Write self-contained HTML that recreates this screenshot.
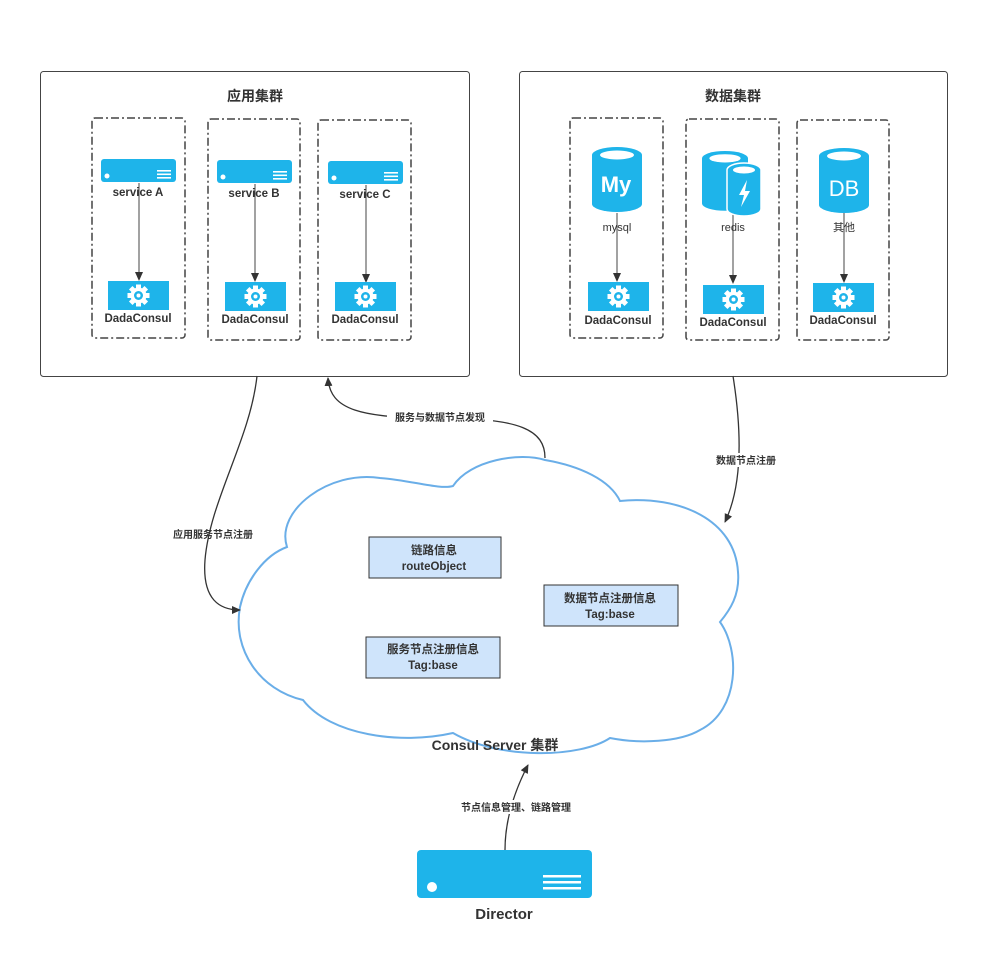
<!DOCTYPE html>
<html><head><meta charset="utf-8"><style>
html,body{margin:0;padding:0;background:#fff}
svg{display:block}
text{font-family:"Liberation Sans","Noto Sans CJK SC",sans-serif;fill:#333}
.b{font-weight:bold}
</style></head><body>
<svg width="1000" height="953" viewBox="0 0 1000 953" xmlns="http://www.w3.org/2000/svg">
<defs>
<marker id="ar" markerWidth="10" markerHeight="10" refX="8" refY="5" orient="auto" markerUnits="userSpaceOnUse">
<path d="M0,1 L9,5 L0,9 Z" fill="#333"/></marker>
<g id="srv"><rect x="0" y="0" width="75" height="23" rx="3" fill="#1eb4ea"/><circle cx="6" cy="17" r="2.5" fill="#fff"/><rect x="56" y="11" width="14" height="1.6" fill="#fff"/><rect x="56" y="14.5" width="14" height="1.6" fill="#fff"/><rect x="56" y="18" width="14" height="1.6" fill="#fff"/></g>
<g id="cog"><rect x="0" y="0" width="61" height="29" fill="#1eb4ea"/>
<g transform="translate(30.5,14.5)" fill="#fff"><circle r="8"/>
<rect x="-2.5" y="-11" width="5" height="22"/><rect x="-11" y="-2.5" width="22" height="5"/>
<rect x="-2.5" y="-11" width="5" height="22" transform="rotate(45)"/><rect x="-2.5" y="-11" width="5" height="22" transform="rotate(-45)"/>
<circle r="4.5" fill="#1eb4ea"/><circle r="2" fill="#fff"/></g></g>
<g id="cyl"><path d="M0,8 A25,8 0 0 1 50,8 L50,57 A25,8 0 0 1 0,57 Z" fill="#1eb4ea"/><ellipse cx="25" cy="8" rx="17" ry="4.5" fill="#fff"/></g>
</defs>

<!-- main boxes -->
<rect x="40.5" y="71.5" width="429" height="305" rx="3" fill="#fff" stroke="#444" stroke-width="1"/>
<rect x="519.5" y="71.5" width="428" height="305" rx="3" fill="#fff" stroke="#444" stroke-width="1"/>
<text x="255" y="101" font-size="14" class="b" text-anchor="middle">应用集群</text>
<text x="733" y="101" font-size="14" class="b" text-anchor="middle">数据集群</text>

<g fill="none" stroke="#444" stroke-width="1.5" stroke-dasharray="8,3,2,3">
<rect x="92" y="118" width="93" height="220" rx="3"/>
<rect x="208" y="119" width="92" height="221" rx="3"/>
<rect x="318" y="120" width="93" height="220" rx="3"/>
<rect x="570" y="118" width="93" height="220" rx="3"/>
<rect x="686" y="119" width="93" height="221" rx="3"/>
<rect x="797" y="120" width="92" height="220" rx="3"/>
</g>

<!-- services -->
<use href="#srv" x="101" y="159"/><use href="#srv" x="217" y="160"/><use href="#srv" x="328" y="161"/>
<g stroke="#444" stroke-width="1" marker-end="url(#ar)">
<line x1="139" y1="183" x2="139" y2="280"/><line x1="255" y1="184" x2="255" y2="281"/><line x1="366" y1="185" x2="366" y2="282"/>
<line x1="617" y1="213" x2="617" y2="281"/><line x1="733" y1="213" x2="733" y2="283"/><line x1="844" y1="213" x2="844" y2="282"/>
</g>
<text x="138" y="196" font-size="11.5" class="b" text-anchor="middle">service A</text>
<text x="254" y="197" font-size="11.5" class="b" text-anchor="middle">service B</text>
<text x="365" y="198" font-size="11.5" class="b" text-anchor="middle">service C</text>
<use href="#cog" x="108" y="281"/><use href="#cog" x="225" y="282"/><use href="#cog" x="335" y="282"/>
<use href="#cog" x="588" y="282"/><use href="#cog" x="703" y="285"/><use href="#cog" x="813" y="283"/>
<g font-size="11.5" class="b" text-anchor="middle">
<text x="138" y="322">DadaConsul</text><text x="255" y="323">DadaConsul</text><text x="365" y="323">DadaConsul</text>
<text x="618" y="324">DadaConsul</text><text x="733" y="326">DadaConsul</text><text x="843" y="324">DadaConsul</text>
</g>

<!-- databases -->
<use href="#cyl" x="592" y="147"/>
<text x="616" y="192" font-size="22" font-weight="bold" fill="#fff" style="fill:#fff" text-anchor="middle">My</text>
<use href="#cyl" x="702" y="151" transform="translate(702,151) scale(0.92) translate(-702,-151)"/>
<g transform="translate(727,162)"><path d="M0,8 A17,7 0 0 1 34,8 L34,47 A17,7 0 0 1 0,47 Z" fill="#1eb4ea" stroke="#fff" stroke-width="1.5"/><ellipse cx="17" cy="8" rx="11" ry="3.5" fill="#fff"/><path d="M20,18 L12,33 L17,33 L14,45 L23,29 L18,29 Z" fill="#fff"/></g>
<use href="#cyl" x="819" y="148"/>
<text x="844" y="196" font-size="22" fill="#fff" style="fill:#fff" text-anchor="middle">DB</text>
<text x="617" y="231" font-size="11" text-anchor="middle">mysql</text>
<text x="733" y="231" font-size="11" text-anchor="middle">redis</text>
<text x="844" y="231" font-size="11" text-anchor="middle">其他</text>

<!-- cloud -->
<path d="M453,486 C470,460 520,452 545,460 C580,466 610,480 620,501 C680,495 735,520 738,572 C740,595 730,610 720,622 C740,650 740,710 700,730 C680,742 640,744 610,738 C580,758 500,760 453,733 C400,745 330,735 303,700 C260,690 232,650 240,607 C246,580 265,555 287,547 C275,510 330,470 380,478 C410,480 440,490 453,486 Z" fill="#fff" stroke="#6aaee8" stroke-width="2"/>

<g stroke="#333" stroke-width="1" fill="#cfe4fb">
<rect x="369" y="537" width="132" height="41"/>
<rect x="544" y="585" width="134" height="41"/>
<rect x="366" y="637" width="134" height="41"/>
</g>
<g font-size="11.5" class="b" text-anchor="middle">
<text x="434" y="554">链路信息</text><text x="434" y="570">routeObject</text>
<text x="610" y="602">数据节点注册信息</text><text x="610" y="618">Tag:base</text>
<text x="433" y="653">服务节点注册信息</text><text x="433" y="669">Tag:base</text>
</g>
<text x="495" y="750" font-size="14" class="b" text-anchor="middle">Consul Server 集群</text>

<!-- connectors -->
<g fill="none" stroke="#333" stroke-width="1.3" marker-end="url(#ar)">
<path d="M257,376 C250,440 210,500 205,560 C202,600 220,610 240,610"/>
<path d="M545,458 C545,430 520,418 440,418 C360,418 330,410 328,378"/>
<path d="M733,376 C740,420 745,480 725,522"/>
<path d="M505,850 C505,820 515,790 528,765"/>
</g>
<g font-size="10" class="b" text-anchor="middle">
<rect x="387" y="410" width="106" height="14" fill="#fff"/>
<text x="440" y="421">服务与数据节点发现</text>
<text x="213" y="538">应用服务节点注册</text>
<rect x="710" y="453" width="72" height="14" fill="#fff"/>
<text x="746" y="464">数据节点注册</text>
<rect x="450" y="800" width="132" height="14" fill="#fff"/>
<text x="516" y="811">节点信息管理、链路管理</text>
</g>

<!-- director -->
<rect x="417" y="850" width="175" height="48" rx="4" fill="#1eb4ea"/>
<circle cx="432" cy="887" r="5" fill="#fff"/>
<rect x="543" y="875" width="38" height="2.5" fill="#fff"/><rect x="543" y="881" width="38" height="2.5" fill="#fff"/><rect x="543" y="887" width="38" height="2.5" fill="#fff"/>
<text x="504" y="919" font-size="15" class="b" text-anchor="middle">Director</text>
</svg>
</body></html>
